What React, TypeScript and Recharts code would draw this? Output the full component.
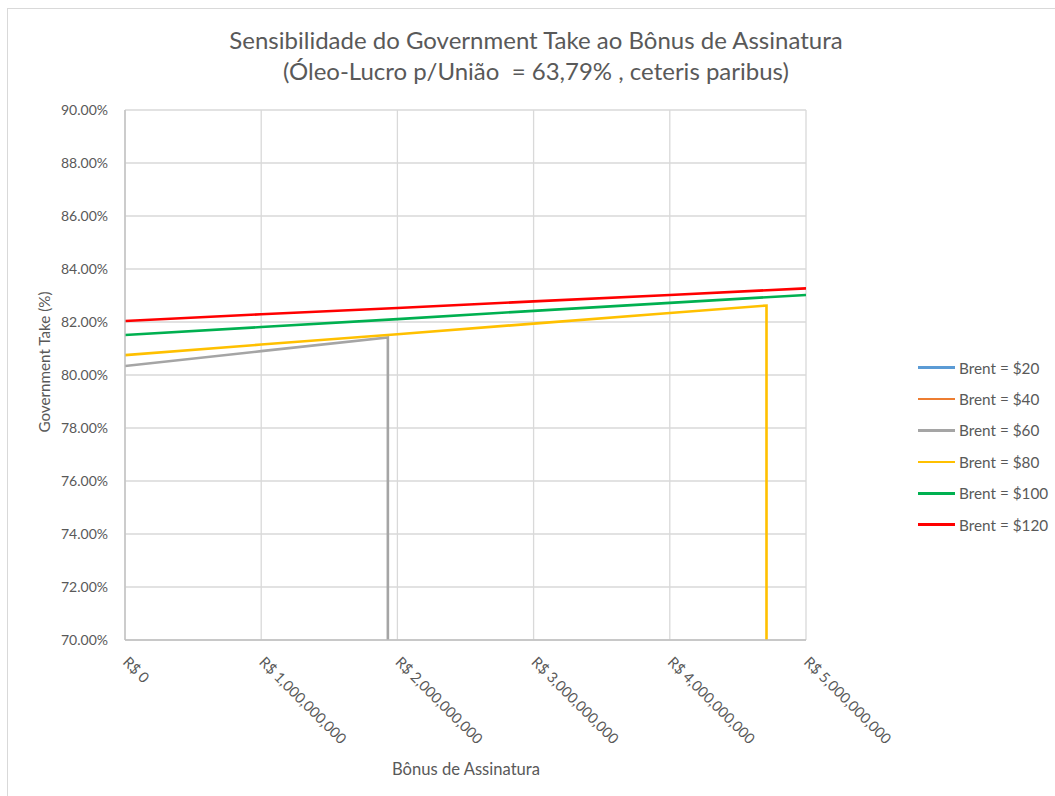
import { LineChart, Line, XAxis, YAxis, CartesianGrid } from 'recharts';

// Bônus de assinatura (R$) at which each curve is sampled
const bonusSteps = [0, 1e9, 2e9, 3e9, 4e9, 5e9];
const xTicks = [0, 1e9, 2e9, 3e9, 4e9, 5e9];
const yTicks = [70, 72, 74, 76, 78, 80, 82, 84, 86, 88, 90];

// Government take (%) per Brent price
const brent20: number[] = [];
const brent40: number[] = [];
const brent60 = [80.34, 80.9];
const brent80 = [80.75, 81.15, 81.54, 81.94, 82.34];
const brent100 = [81.51, 81.81, 82.11, 82.42, 82.72, 83.02];
const brent120 = [82.04, 82.29, 82.53, 82.78, 83.02, 83.27];

// last feasible bonus for the cheaper scenarios; past it the take collapses
const limit60 = { bonus: 1.93e9, take: 81.42 };
const limit80 = { bonus: 4.71e9, take: 82.62 };
const collapsedTake = 0;

type Pt = { x: number; y: number };

function toPoints(values: number[], limit?: { bonus: number; take: number }): Pt[] {
  const pts = values.map((v, i) => ({ x: bonusSteps[i], y: v }));
  if (limit) {
    pts.push({ x: limit.bonus, y: limit.take });
    pts.push({ x: limit.bonus, y: collapsedTake });
  }
  return pts;
}

const series = [
  { name: 'Brent = $20', color: '#5B9BD5', data: toPoints(brent20) },
  { name: 'Brent = $40', color: '#ED7D31', data: toPoints(brent40) },
  { name: 'Brent = $60', color: '#A5A5A5', data: toPoints(brent60, limit60) },
  { name: 'Brent = $80', color: '#FFC000', data: toPoints(brent80, limit80) },
  { name: 'Brent = $100', color: '#00B050', data: toPoints(brent100) },
  { name: 'Brent = $120', color: '#FF0000', data: toPoints(brent120) },
];

const FONT = 'Lato, "Open Sans", sans-serif';
const TEXT = '#595959';

const fmtMoney = (v: number) => 'R$ ' + v.toLocaleString('en-US');

const XTick = ({ x, y, payload }: any) => (
  <text
    x={x - 3}
    y={y + 15}
    transform={`rotate(45, ${x - 3}, ${y + 15})`}
    fill={TEXT}
    fontSize={14.6}
    fontFamily={FONT}
    textAnchor="start"
  >
    {fmtMoney(payload.value)}
  </text>
);

export default function App() {
  return (
    <div
      style={{
        position: 'absolute',
        left: 0,
        top: 0,
        width: 1055,
        height: 796,
        background: '#fff',
        overflow: 'hidden',
        fontFamily: FONT,
      }}
    >
      <div
        style={{
          position: 'absolute',
          left: 7,
          top: 8,
          width: 1100,
          height: 850,
          borderLeft: '1.5px solid #d9d9d9',
          borderTop: '1.5px solid #d9d9d9',
        }}
      />
      <div
        style={{
          position: 'absolute',
          left: 0,
          top: 24,
          width: 1072,
          textAlign: 'center',
          color: TEXT,
          fontSize: 24,
          lineHeight: '31px',
        }}
      >
        Sensibilidade do Government Take ao Bônus de Assinatura
        <br />
        (Óleo-Lucro p/União&nbsp; = 63,79% , ceteris paribus)
      </div>
      <div
        style={{
          position: 'absolute',
          left: 44,
          top: 362,
          transform: 'translate(-50%, -50%) rotate(-90deg)',
          whiteSpace: 'nowrap',
          color: TEXT,
          fontSize: 15.2,
        }}
      >
        Government Take (%)
      </div>
      <div
        style={{
          position: 'absolute',
          left: 466,
          top: 769,
          transform: 'translate(-50%, -50%)',
          whiteSpace: 'nowrap',
          color: TEXT,
          fontSize: 16.6,
        }}
      >
        Bônus de Assinatura
      </div>

      <div style={{ position: 'absolute', left: 0, top: 0 }}>
        <LineChart
          width={1055}
          height={796}
          margin={{ top: 110, right: 249, bottom: 96, left: 65 }}
        >
          <CartesianGrid stroke="#d9d9d9" strokeWidth={1.3} />
          <XAxis
            type="number"
            dataKey="x"
            domain={[0, 5e9]}
            ticks={xTicks}
            allowDataOverflow
            tick={<XTick />}
            tickLine={false}
            axisLine={{ stroke: '#bfbfbf', strokeWidth: 1.3 }}
            height={60}
          />
          <YAxis
            type="number"
            dataKey="y"
            domain={[70, 90]}
            ticks={yTicks}
            allowDataOverflow
            tickFormatter={(v: number) => v.toFixed(2) + '%'}
            tick={{ fill: TEXT, fontSize: 14, fontFamily: FONT, dx: -9 }}
            tickLine={false}
            axisLine={{ stroke: '#bfbfbf', strokeWidth: 1.3 }}
            width={60}
          />
          {series.map((s) => (
            <Line
              key={s.name}
              data={s.data}
              dataKey="y"
              name={s.name}
              type="linear"
              stroke={s.color}
              strokeWidth={2.6}
              dot={false}
              activeDot={false}
              isAnimationActive={false}
            />
          ))}
        </LineChart>
      </div>

      <div style={{ position: 'absolute', left: 918, top: 352 }}>
        {series.map((s) => (
          <div
            key={s.name}
            style={{ display: 'flex', alignItems: 'center', height: 31.4 }}
          >
            <div style={{ width: 37, height: 2.6, background: s.color }} />
            <span style={{ marginLeft: 4, color: TEXT, fontSize: 15.3 }}>
              {s.name}
            </span>
          </div>
        ))}
      </div>
    </div>
  );
}
